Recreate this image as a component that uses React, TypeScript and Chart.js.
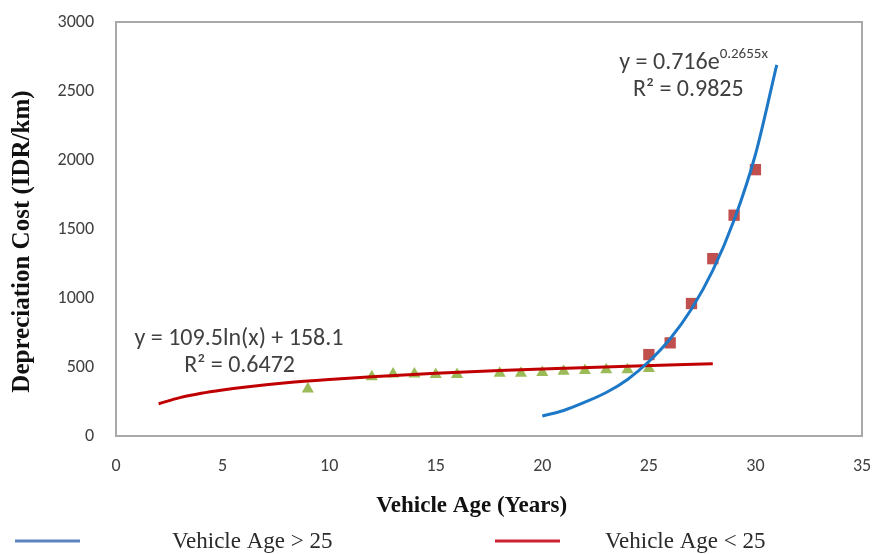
import React, { useEffect, useRef } from 'react';
import { Chart, registerables } from 'chart.js';

Chart.register(...registerables);

// ---- Data ----
const xTickStep = 5;
const xMin = 0;
const xMax = 35;
const yTickStep = 500;
const yMin = 0;
const yMax = 3000;

// Observed depreciation cost, vehicle age < 25 (triangles)
const ageUnder25 = [9, 12, 13, 14, 15, 16, 18, 19, 20, 21, 22, 23, 24, 25];
const costUnder25 = [340, 430, 450, 450, 445, 445, 455, 455, 460, 470, 475, 480, 480, 490];

// Observed depreciation cost, vehicle age > 25 (squares)
const ageOver25 = [25, 26, 27, 28, 29, 30];
const costOver25 = [590, 675, 960, 1285, 1600, 1930];

// Exponential trendline (Vehicle Age > 25)
const expTrendAge = [20, 21, 22, 23, 24, 25, 26, 27, 28, 29, 30, 31];
const expTrendCost = [145, 185, 245, 315, 410, 540, 705, 920, 1200, 1565, 2040, 2690];

// Logarithmic trendline (Vehicle Age < 25)
const logTrendAge = [2, 3, 4, 5, 6, 8, 10, 12, 15, 18, 21, 24, 28];
const logTrendCost = [234, 278, 310, 334, 354, 386, 410, 430, 455, 475, 491, 506, 523];

// Trendline labels
const expEqMain = 'y = 0.716e';
const expEqSup = '0.2655x';
const expR2 = 'R² = 0.9825';
const logEq = 'y = 109.5ln(x) + 158.1';
const logR2 = 'R² = 0.6472';

// Legend entries
const legendLabels = ['Vehicle Age > 25', 'Vehicle Age < 25'];
const legendColors = ['#5E84C0', '#CC2233'];

const xTitle = 'Vehicle Age (Years)';
const yTitle = 'Depreciation Cost (IDR/km)';

const toPoints = (xs: number[], ys: number[]) => xs.map((x, i) => ({ x, y: ys[i] }));

const TICK_FONT = 'Carlito, Lato, "Open Sans", sans-serif';
const SERIF = '"Liberation Serif", "DejaVu Serif", serif';

const overlayPlugin = {
  id: 'overlay',
  beforeDatasetsDraw(chart: any) {
    const { ctx, chartArea } = chart;
    ctx.save();
    ctx.strokeStyle = '#A9A9A9';
    ctx.lineWidth = 2;
    ctx.strokeRect(chartArea.left, chartArea.top, chartArea.right - chartArea.left, chartArea.bottom - chartArea.top);
    ctx.restore();
  },
  afterDraw(chart: any) {
    const { ctx } = chart;
    const xs = chart.scales.x;
    const ys = chart.scales.y;
    ctx.save();
    ctx.fillStyle = '#404040';
    ctx.textBaseline = 'middle';

    // exponential equation with superscript
    const mainFont = `24px ${TICK_FONT}`;
    const supFont = `15px ${TICK_FONT}`;
    ctx.font = mainFont;
    const wMain = ctx.measureText(expEqMain).width;
    ctx.font = supFont;
    const wSup = ctx.measureText(expEqSup).width;
    const cx1 = xs.getPixelForValue(27.1);
    const cy1 = ys.getPixelForValue(2700);
    const start1 = cx1 - (wMain + wSup) / 2;
    ctx.font = mainFont;
    ctx.textAlign = 'left';
    ctx.fillText(expEqMain, start1, cy1);
    ctx.font = supFont;
    ctx.fillText(expEqSup, start1 + wMain, cy1 - 9);
    ctx.font = mainFont;
    ctx.textAlign = 'center';
    ctx.fillText(expR2, xs.getPixelForValue(26.85), ys.getPixelForValue(2510));

    // logarithmic equation
    ctx.fillText(logEq, xs.getPixelForValue(5.77), ys.getPixelForValue(705));
    ctx.fillText(logR2, xs.getPixelForValue(5.8), ys.getPixelForValue(510));

    // legend
    const ly = 541;
    ctx.lineWidth = 3;
    ctx.strokeStyle = legendColors[0];
    ctx.beginPath();
    ctx.moveTo(15, ly);
    ctx.lineTo(80, ly);
    ctx.stroke();
    ctx.strokeStyle = legendColors[1];
    ctx.beginPath();
    ctx.moveTo(495, ly);
    ctx.lineTo(560, ly);
    ctx.stroke();
    ctx.fillStyle = '#2A2A2A';
    ctx.font = `23px ${SERIF}`;
    ctx.textAlign = 'left';
    ctx.fillText(legendLabels[0], 172, ly + 1);
    ctx.fillText(legendLabels[1], 605, ly + 1);
    ctx.restore();
  },
};

export default function App() {
  const canvasRef = useRef<HTMLCanvasElement | null>(null);

  useEffect(() => {
    document.body.style.margin = '0';
    const canvas = canvasRef.current;
    if (!canvas) return;
    const chart = new Chart(canvas, {
      type: 'scatter',
      data: {
        datasets: [
          {
            label: legendLabels[0],
            data: toPoints(expTrendAge, expTrendCost),
            showLine: true,
            borderColor: '#1E78C8',
            backgroundColor: '#1E78C8',
            borderWidth: 3,
            pointRadius: 0,
            cubicInterpolationMode: 'monotone',
            fill: false,
            order: 0,
          },
          {
            label: legendLabels[1],
            data: toPoints(logTrendAge, logTrendCost),
            showLine: true,
            borderColor: '#C00000',
            backgroundColor: '#C00000',
            borderWidth: 3,
            pointRadius: 0,
            cubicInterpolationMode: 'monotone',
            fill: false,
            order: 0,
          },
          {
            label: 'Observed (age > 25)',
            data: toPoints(ageOver25, costOver25),
            pointStyle: 'rect',
            pointRadius: 8,
            backgroundColor: '#C0504D',
            borderColor: '#C0504D',
            borderWidth: 0,
            order: 1,
          },
          {
            label: 'Observed (age < 25)',
            data: toPoints(ageUnder25, costUnder25),
            pointStyle: 'triangle',
            pointRadius: 7,
            backgroundColor: '#9BBB59',
            borderColor: '#9BBB59',
            borderWidth: 0,
            order: 1,
          },
        ],
      },
      options: {
        responsive: false,
        animation: false,
        layout: { padding: { left: 0, right: 13, top: 22, bottom: 28 } },
        plugins: {
          legend: { display: false },
          tooltip: { enabled: false },
        },
        scales: {
          x: {
            type: 'linear',
            min: xMin,
            max: xMax,
            afterFit: (scale: any) => {
              scale.height = 90;
              scale.paddingLeft = 0;
              scale.paddingRight = 0;
            },
            ticks: {
              stepSize: xTickStep,
              padding: 20,
              color: '#404040',
              font: { family: TICK_FONT, size: 18 },
              callback: (v: any) => String(v),
            },
            grid: { display: false, drawTicks: false },
            border: { display: false },
            title: {
              display: true,
              text: xTitle + '      ',
              color: '#111111',
              font: { family: SERIF, size: 23, weight: 'bold' },
              padding: { top: 0, bottom: 6 },
            },
          },
          y: {
            type: 'linear',
            min: yMin,
            max: yMax,
            afterFit: (scale: any) => {
              scale.width = 116;
              scale.paddingTop = 0;
              scale.paddingBottom = 0;
            },
            ticks: {
              stepSize: yTickStep,
              padding: 22,
              color: '#404040',
              font: { family: TICK_FONT, size: 18 },
              callback: (v: any) => String(v),
            },
            grid: { display: false, drawTicks: false },
            border: { display: false },
            title: {
              display: true,
              text: yTitle + '    ',
              color: '#111111',
              font: { family: SERIF, size: 25, weight: 'bold' },
              padding: { top: 8, bottom: 0 },
            },
          },
        },
      },
      plugins: [overlayPlugin],
    } as any);
    return () => chart.destroy();
  }, []);

  return (
    <div style={{ position: 'absolute', left: 0, top: 0, width: 875, height: 554, background: '#ffffff' }}>
      <canvas ref={canvasRef} width={875} height={554} />
    </div>
  );
}
